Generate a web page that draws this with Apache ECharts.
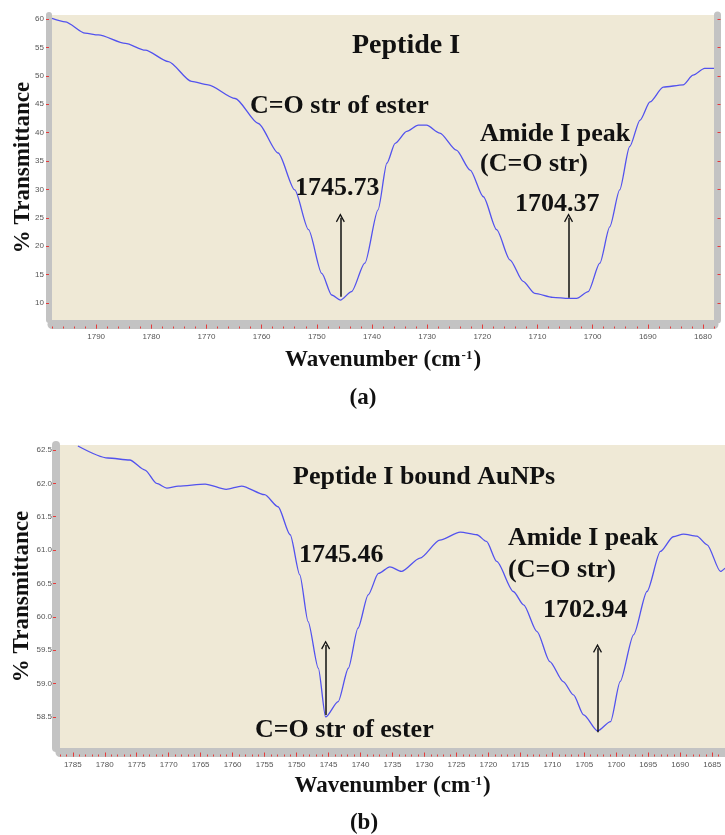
<!DOCTYPE html>
<html>
<head>
<meta charset="utf-8">
<script src="https://cdn.jsdelivr.net/npm/echarts@6/dist/echarts.min.js"></script>
<style>
  html, body { margin: 0; padding: 0; background: #ffffff; }
  #chart { width: 725px; height: 835px; }
</style>
</head>
<body>
<div id="chart"></div>
<script>
// ---- Spectrum (a): Peptide I ----
const wavenumberA = [1798.0, 1795.6, 1792.0, 1789.6, 1784.7, 1781.1, 1776.9, 1772.7, 1769.7, 1764.8,
  1760.6, 1757.0, 1754.0, 1751.5, 1749.1, 1747.3, 1745.73, 1743.7, 1741.3, 1738.9,
  1737.3, 1735.8, 1733.7, 1731.6, 1730.1, 1727.7, 1724.7, 1722.2, 1719.8, 1717.4,
  1715.0, 1712.6, 1710.5, 1707.2, 1704.37, 1702.9, 1700.8, 1698.7, 1696.9, 1695.1,
  1693.3, 1691.4, 1689.6, 1687.2, 1683.6, 1681.8, 1679.7, 1678.0];
const transmittanceA = [60.1, 59.5, 57.5, 57.2, 55.7, 54.5, 52.5, 49.0, 48.4, 46.0,
  41.6, 36.4, 29.9, 22.9, 15.2, 11.4, 10.5, 12.0, 17.0, 26.4,
  34.6, 38.1, 40.2, 41.3, 41.3, 39.9, 36.9, 33.4, 28.7, 22.9,
  17.6, 13.8, 11.7, 11.0, 10.8, 10.8, 12.0, 17.0, 23.4, 29.9,
  37.5, 42.2, 45.4, 48.0, 48.4, 50.1, 51.3, 51.3];

// ---- Spectrum (b): Peptide I bound AuNPs ----
const wavenumberB = [1784.2, 1779.5, 1776.1, 1773.7, 1771.9, 1770.3, 1768.5, 1764.3, 1761.0, 1758.6,
  1755.0, 1752.9, 1751.0, 1749.5, 1748.2, 1746.6, 1745.46, 1743.5, 1741.9, 1740.4,
  1738.8, 1737.2, 1735.4, 1733.6, 1730.7, 1727.6, 1724.4, 1721.8, 1720.3, 1718.7,
  1716.1, 1714.5, 1712.4, 1710.4, 1708.3, 1706.7, 1705.1, 1702.94, 1700.9, 1699.4,
  1697.3, 1695.2, 1693.1, 1691.1, 1689.5, 1687.4, 1685.8, 1683.7, 1683.0];
const transmittanceB = [62.56, 62.38, 62.35, 62.20, 62.00, 61.93, 61.96, 61.99, 61.91, 61.96,
  61.83, 61.65, 61.23, 60.63, 59.93, 59.23, 58.50, 58.73, 59.23, 59.83,
  60.33, 60.65, 60.75, 60.68, 60.88, 61.15, 61.27, 61.23, 61.13, 60.83,
  60.38, 60.18, 59.78, 59.33, 59.03, 58.83, 58.53, 58.29, 58.43, 59.03,
  59.73, 60.38, 60.98, 61.20, 61.24, 61.21, 61.08, 60.68, 60.73];

// ---- Axis ticks ----
const xTicksA = [1680, 1690, 1700, 1710, 1720, 1730, 1740, 1750, 1760, 1770, 1780, 1790];
const yTicksA = [10, 15, 20, 25, 30, 35, 40, 45, 50, 55, 60];
const xTicksB = [1685, 1690, 1695, 1700, 1705, 1710, 1715, 1720, 1725, 1730, 1735, 1740,
  1745, 1750, 1755, 1760, 1765, 1770, 1775, 1780, 1785];
const yTicksB = [58.5, 59.0, 59.5, 60.0, 60.5, 61.0, 61.5, 62.0, 62.5];

// ---- Peak markers: [wavenumber, arrow start, arrow tip] ----
const peakArrowsA = [[1745.73, 11.1, 25.0], [1704.37, 10.9, 25.0]];
const peakArrowsB = [[1745.46, 58.53, 59.58], [1702.94, 58.27, 59.53]];

function steps(start, end, step) {
  const out = [];
  for (let v = start; v <= end + 1e-9; v += step) out.push(Math.round(v * 100) / 100);
  return out;
}
const minorTicksA = steps(1678, 1798, 2);
const minorTicksB = steps(1683, 1787, 1);

const SERIF = '"Liberation Serif", "Times New Roman", serif';
const PLOT_BG = '#efe9d6';
const BAND = '#c3c3c3';
const TICK_RED = '#e53a3a';
const LINE_BLUE = '#5252ee';

const arrowHead = 'path://M0,8 L5,0 L10,8 L8.8,8.8 L5,2.6 L1.2,8.8 Z';

function pair(a, b) { return a.map((v, i) => [v, b[i]]); }

function arrowLines(list) {
  return list.map(p => [{ coord: [p[0], p[1]] }, { coord: [p[0], p[2]] }]);
}

function xMajor(gridIndex, min, max, ticks, gap) {
  return {
    type: 'value', gridIndex, min, max, inverse: true, position: 'bottom', offset: 4.5,
    axisLine: { show: true, onZero: false, lineStyle: { color: BAND, width: 9 } },
    axisTick: { show: true, length: 4, customValues: ticks, lineStyle: { color: TICK_RED, width: 1 } },
    axisLabel: { show: true, customValues: ticks, margin: 8, fontSize: 8, color: '#555',
      fontFamily: 'Liberation Sans, Arial, sans-serif', formatter: v => String(v) },
    splitLine: { show: false },
    nameLocation: 'middle', nameGap: gap, nameMoveOverlap: false,
    name: '{n|Wavenumber (cm}{s|-1}{n|)}',
    nameTextStyle: {
      verticalAlign: 'middle',
      rich: {
        n: { fontFamily: SERIF, fontWeight: 'bold', fontSize: 23, color: '#111' },
        s: { fontFamily: SERIF, fontWeight: 'bold', fontSize: 13, color: '#111', verticalAlign: 'top', padding: [0, 1, 9, 1] }
      }
    }
  };
}

function xMinor(gridIndex, min, max, ticks) {
  return {
    type: 'value', gridIndex, min, max, inverse: true, position: 'bottom', offset: 6.5,
    axisLine: { show: false, onZero: false },
    axisTick: { show: true, length: 2, customValues: ticks, lineStyle: { color: TICK_RED, width: 1 } },
    axisLabel: { show: false },
    splitLine: { show: false }
  };
}

function note(x, y, text, size, align) {
  return { type: 'text', x, y, style: { text, font: 'bold ' + size + 'px ' + SERIF, fill: '#111',
    align: align || 'left', verticalAlign: 'middle' } };
}

const option = {
  animation: false,
  backgroundColor: '#ffffff',
  grid: [
    { left: 52, top: 15, width: 662, height: 305, show: true, backgroundColor: PLOT_BG, borderWidth: 0,
      containLabel: false, outerBoundsMode: 'none' },
    { left: 60, top: 445, width: 665, height: 303, show: true, backgroundColor: PLOT_BG, borderWidth: 0,
      containLabel: false, outerBoundsMode: 'none' }
  ],
  xAxis: [
    xMajor(0, 1678.0, 1798.0, xTicksA, 36),
    xMinor(0, 1678.0, 1798.0, minorTicksA),
    xMajor(1, 1683.0, 1787.0, xTicksB, 34),
    xMinor(1, 1683.0, 1787.0, minorTicksB)
  ],
  yAxis: [
    {
      type: 'value', gridIndex: 0, min: 7.0, max: 60.7, position: 'left', offset: 3,
      axisLine: { show: true, onZero: false, lineStyle: { color: BAND, width: 6 } },
      axisTick: { show: true, length: 3, customValues: yTicksA, lineStyle: { color: TICK_RED } },
      axisLabel: { show: true, customValues: yTicksA, margin: 5, fontSize: 8, color: '#555',
        fontFamily: 'Liberation Sans, Arial, sans-serif', formatter: v => String(v) },
      splitLine: { show: false },
      name: '% Transmittance', nameLocation: 'middle', nameRotate: 90, nameGap: 26, nameMoveOverlap: false,
      nameTextStyle: { fontFamily: SERIF, fontWeight: 'bold', fontSize: 23, color: '#111', verticalAlign: 'middle' }
    },
    {
      type: 'value', gridIndex: 0, min: 7.0, max: 60.7, position: 'right', offset: 3.5,
      axisLine: { show: true, onZero: false, lineStyle: { color: BAND, width: 7 } },
      axisTick: { show: true, length: 3, customValues: yTicksA, lineStyle: { color: TICK_RED } },
      axisLabel: { show: false },
      splitLine: { show: false }
    },
    {
      type: 'value', gridIndex: 1, min: 58.035, max: 62.575, position: 'left', offset: 4,
      axisLine: { show: true, onZero: false, lineStyle: { color: BAND, width: 8 } },
      axisTick: { show: true, length: 3, customValues: yTicksB, lineStyle: { color: TICK_RED } },
      axisLabel: { show: true, customValues: yTicksB, margin: 4, fontSize: 8, color: '#555',
        fontFamily: 'Liberation Sans, Arial, sans-serif', formatter: v => Number(v).toFixed(1) },
      splitLine: { show: false },
      name: '% Transmittance', nameLocation: 'middle', nameRotate: 90, nameGap: 34, nameMoveOverlap: false,
      nameTextStyle: { fontFamily: SERIF, fontWeight: 'bold', fontSize: 23, color: '#111', verticalAlign: 'middle' }
    }
  ],
  series: [
    {
      name: 'Peptide I', type: 'line', xAxisIndex: 0, yAxisIndex: 0,
      data: pair(wavenumberA, transmittanceA),
      showSymbol: false, smooth: 0.25, smoothMonotone: 'x',
      lineStyle: { color: LINE_BLUE, width: 1.3 }, itemStyle: { color: LINE_BLUE },
      markLine: {
        silent: true, symbol: ['none', arrowHead], symbolSize: [9, 9],
        label: { show: false }, lineStyle: { color: '#111', width: 1.5, type: 'solid' },
        data: arrowLines(peakArrowsA)
      }
    },
    {
      name: 'Peptide I bound AuNPs', type: 'line', xAxisIndex: 2, yAxisIndex: 2,
      data: pair(wavenumberB, transmittanceB),
      showSymbol: false, smooth: 0.25, smoothMonotone: 'x',
      lineStyle: { color: LINE_BLUE, width: 1.3 }, itemStyle: { color: LINE_BLUE },
      markLine: {
        silent: true, symbol: ['none', arrowHead], symbolSize: [9, 9],
        label: { show: false }, lineStyle: { color: '#111', width: 1.5, type: 'solid' },
        data: arrowLines(peakArrowsB)
      }
    }
  ],
  graphic: [
    // panel (a) annotations
    note(406, 46, 'Peptide I', 28, 'center'),
    note(250, 106, 'C=O str of ester', 26),
    note(295, 188, '1745.73', 26),
    note(480, 134, 'Amide I peak', 26),
    note(480, 164, '(C=O str)', 26),
    note(515, 204, '1704.37', 26),
    note(363, 398, '(a)', 23, 'center'),
    // panel (b) annotations
    note(293, 477, 'Peptide I bound AuNPs', 26),
    note(299, 555, '1745.46', 26),
    note(255, 730, 'C=O str of ester', 26),
    note(508, 538, 'Amide I peak', 26),
    note(508, 570, '(C=O str)', 26),
    note(543, 610, '1702.94', 26),
    note(364, 823, '(b)', 23, 'center')
  ]
};

const chart = echarts.init(document.getElementById('chart'), null, { renderer: 'canvas' });
chart.setOption(option);
</script>
</body>
</html>
